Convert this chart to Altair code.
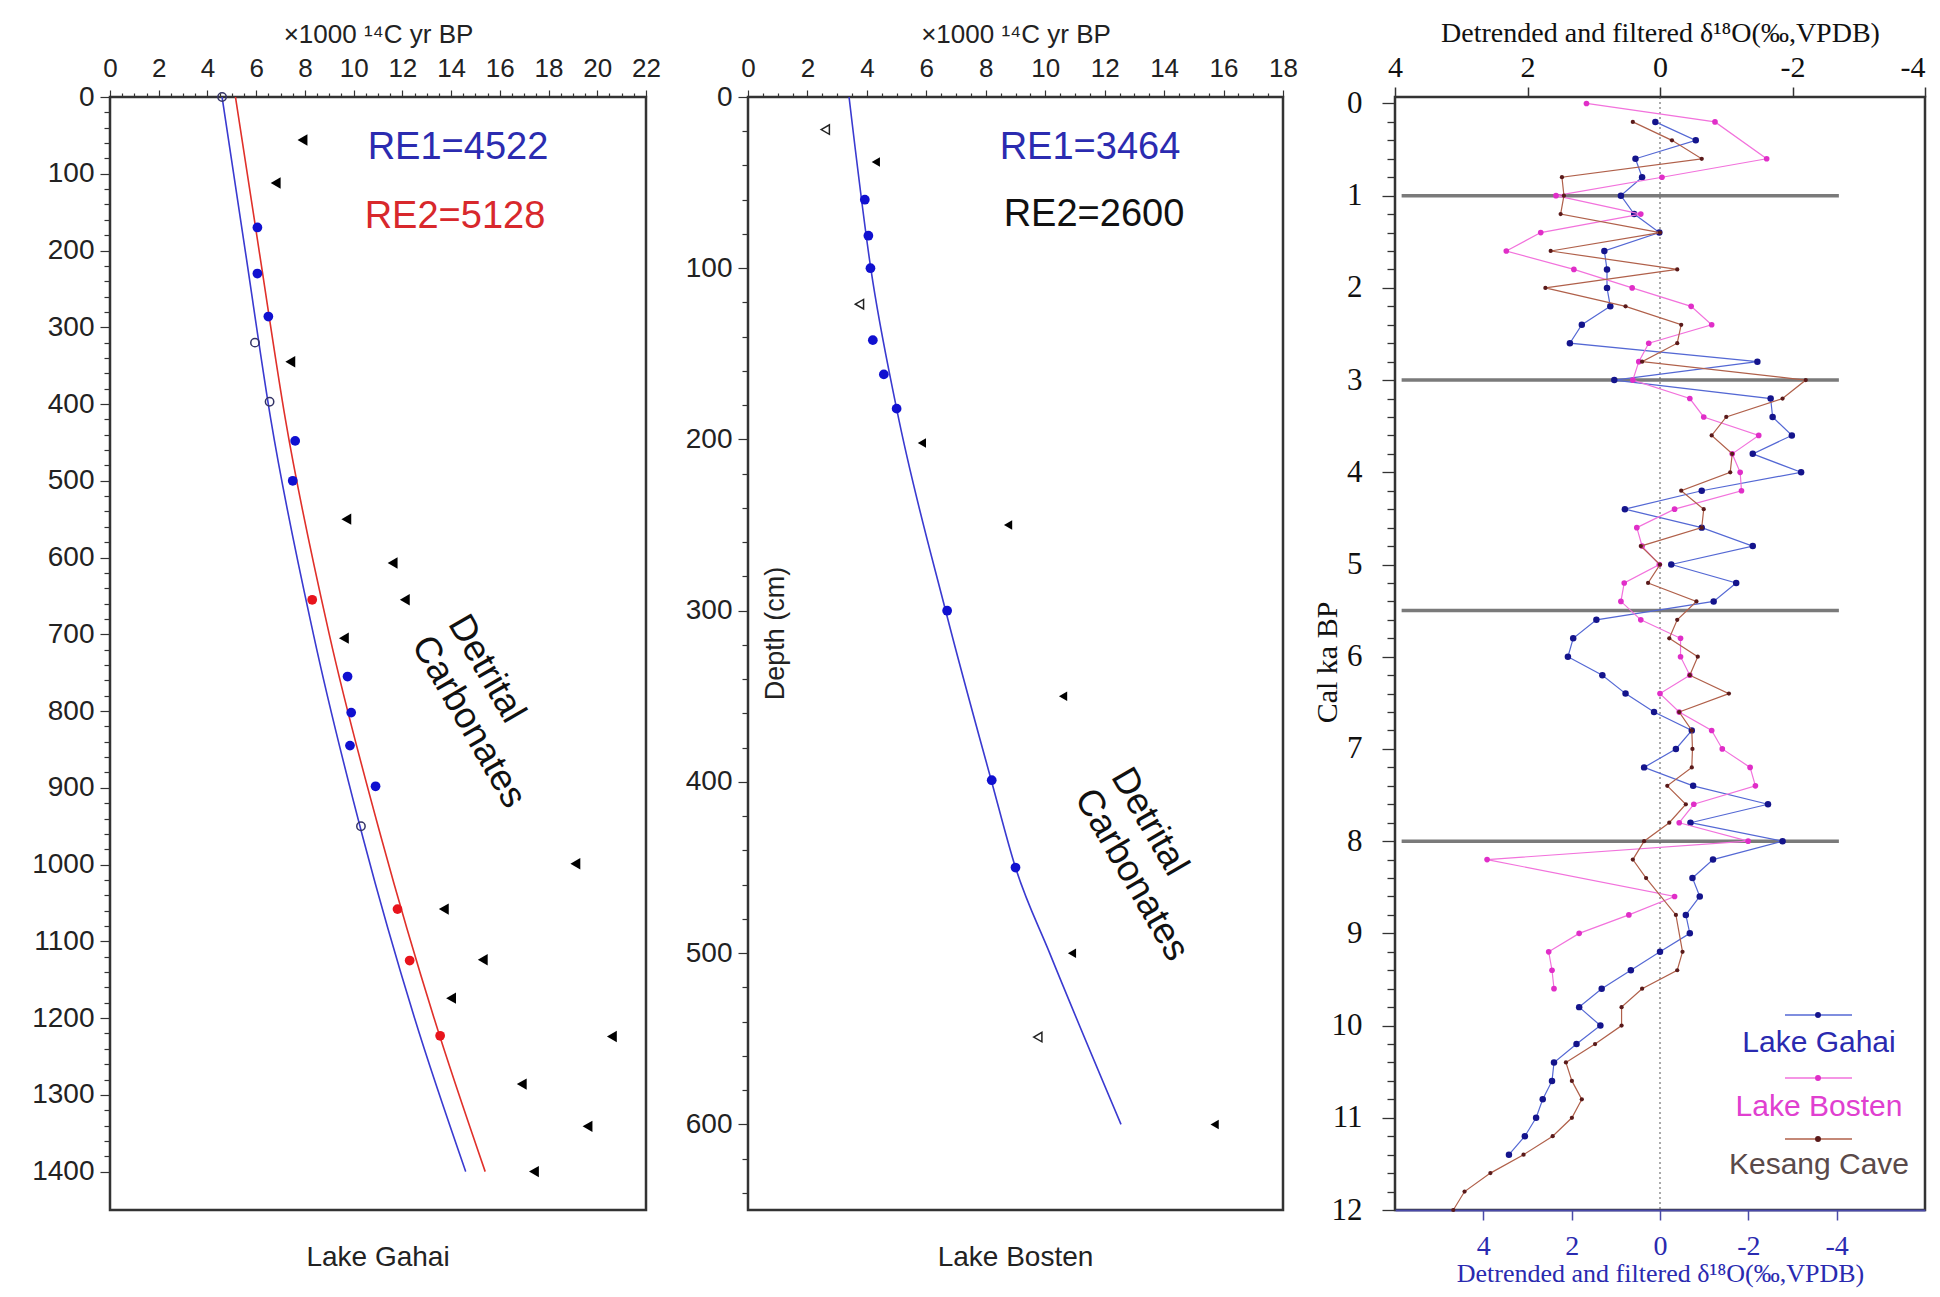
import altair as alt
import pandas as pd

# ---------------- Panel 1: Lake Gahai ----------------
gahai_line_depth = [0, 200, 420, 700, 967, 1200, 1400]
gahai_re1_age = [4.6, 5.55, 6.6, 8.35, 10.4, 12.5, 14.6]
gahai_re2_age = [5.15, 6.12, 7.2, 9.0, 11.15, 13.3, 15.4]

gahai_blue_age = [6.05, 6.05, 6.5, 7.6, 7.5, 9.75, 9.9, 9.85, 10.9]
gahai_blue_depth = [170, 230, 286, 448, 500, 755, 802, 845, 898]
gahai_red_age = [8.3, 11.8, 12.3, 13.55]
gahai_red_depth = [655, 1058, 1125, 1223]
gahai_open_age = [4.6, 5.95, 6.55, 10.3]
gahai_open_depth = [0, 320, 397, 950]
gahai_tri_age = [7.9, 6.8, 7.4, 9.7, 11.6, 12.1, 9.6, 19.1, 13.7, 15.3, 14.0, 20.6, 16.9, 19.6, 17.4]
gahai_tri_depth = [56, 112, 345, 550, 607, 655, 705, 999, 1058, 1124, 1174, 1224, 1286, 1341, 1400]

# ---------------- Panel 2: Lake Bosten ----------------
bosten_line_depth = [0, 100, 182, 300, 400, 450, 500, 600]
bosten_re1_age = [3.4, 4.13, 5.0, 6.65, 8.2, 9.0, 10.15, 12.55]
bosten_blue_age = [3.93, 4.05, 4.12, 4.2, 4.57, 5.0, 6.7, 8.2, 9.0]
bosten_blue_depth = [60, 81, 100, 142, 162, 182, 300, 399, 450]
bosten_tri_age = [4.3, 5.85, 8.75, 10.6, 10.9, 15.7]
bosten_tri_depth = [38, 202, 250, 350, 500, 600]
bosten_open_age = [2.6, 3.75, 9.75]
bosten_open_depth = [19, 121, 549]

# ---------------- Panel 3: detrended d18O ----------------
gahai_ka = [0.2, 0.4, 0.6, 0.8, 1.0, 1.2, 1.4, 1.6, 1.8, 2.0, 2.2, 2.4, 2.6, 2.8, 3.0,
            3.2, 3.4, 3.6, 3.8, 4.0, 4.2, 4.4, 4.6, 4.8, 5.0, 5.2, 5.4, 5.6, 5.8, 6.0,
            6.2, 6.4, 6.6, 6.8, 7.0, 7.2, 7.4, 7.6, 7.8, 8.0, 8.2, 8.4, 8.6, 8.8, 9.0,
            9.2, 9.4, 9.6, 9.8, 10.0, 10.2, 10.4, 10.6, 10.8, 11.0, 11.2, 11.4]
gahai_d18o = [0.07, -0.54, 0.37, 0.27, 0.59, 0.39, 0.01, 0.84, 0.80, 0.80, 0.75, 1.18, 1.36, -1.47, 0.69,
              -1.67, -1.70, -1.99, -1.40, -2.13, -0.63, 0.53, -0.63, -1.40, -0.17, -1.15, -0.81, 0.96, 1.31, 1.39,
              0.87, 0.52, 0.09, -0.48, -0.24, 0.24, -0.50, -1.63, -0.46, -1.85, -0.80, -0.49, -0.60, -0.39, -0.45,
              0.0, 0.44, 0.88, 1.22, 0.90, 1.26, 1.60, 1.63, 1.77, 1.87, 2.04, 2.28]

bosten_ka = [0.0, 0.2, 0.6, 0.8, 1.0, 1.2, 1.4, 1.6, 1.8, 2.0, 2.2, 2.4, 2.6, 2.8, 3.0,
             3.2, 3.4, 3.6, 3.8, 4.0, 4.2, 4.4, 4.6, 4.8, 5.0, 5.2, 5.4, 5.6, 5.8, 6.0,
             6.2, 6.4, 6.6, 6.8, 7.0, 7.2, 7.4, 7.6, 7.8, 8.0, 8.2, 8.6, 8.8, 9.0, 9.2, 9.4, 9.6]
bosten_d18o = [1.11, -0.83, -1.61, -0.03, 1.57, 0.29, 1.80, 2.32, 1.30, 0.42, -0.47, -0.78, 0.17, 0.32, 0.41,
               -0.45, -0.66, -1.49, -1.09, -1.21, -1.23, -0.22, 0.35, 0.27, 0.01, 0.54, 0.59, 0.29, -0.31, -0.31,
               -0.45, 0.0, -0.29, -0.78, -0.94, -1.36, -1.44, -0.51, -0.29, -1.33, 2.61, -0.22, 0.47, 1.22, 1.68,
               1.63, 1.60]

kesang_ka = [0.2, 0.4, 0.6, 0.8, 1.0, 1.2, 1.4, 1.6, 1.8, 2.0, 2.2, 2.4, 2.6, 2.8, 3.0,
             3.2, 3.4, 3.6, 3.8, 4.0, 4.2, 4.4, 4.6, 4.8, 5.0, 5.2, 5.4, 5.6, 5.8, 6.0,
             6.2, 6.4, 6.6, 6.8, 7.0, 7.2, 7.4, 7.6, 7.8, 8.0, 8.2, 8.4, 8.8, 9.2, 9.4,
             9.6, 9.8, 10.0, 10.2, 10.4, 10.6, 10.8, 11.0, 11.2, 11.4, 11.6, 11.8, 12.0]
kesang_d18o = [0.41, -0.18, -0.63, 1.48, 1.45, 1.50, 0.0, 1.65, -0.26, 1.73, 0.52, -0.32, -0.26, 0.27, -2.2,
               -1.85, -1.0, -0.78, -1.09, -1.06, -0.32, -0.66, -0.63, 0.29, 0.0, 0.18, -0.55, -0.26, -0.14, -0.57,
               -0.45, -1.04, -0.29, -0.48, -0.49, -0.48, -0.11, -0.39, -0.14, 0.24, 0.41, 0.21, -0.24, -0.34, -0.26,
               0.27, 0.58, 0.58, 0.98, 1.42, 1.33, 1.18, 1.33, 1.62, 2.06, 2.56, 2.95, 3.12]

event_ka = [1, 3, 5.5, 8]
event_start = [3.9, 3.9, 3.9, 3.9]
event_end = [-2.7, -2.7, -2.7, -2.7]

FS = "Liberation Sans"
FT = "Liberation Serif"
H = 1113
W1, W2, W3 = 536, 535, 530


def age_axis(maxv):
    return alt.Axis(
        orient="top", values=[k * 0.5 for k in range(int(maxv * 2) + 1)],
        labelExpr="datum.value % 2 === 0 ? '' + datum.value : ''",
        tickSize={"condition": {"test": "datum.value % 2 === 0", "value": 7}, "value": 4},
        tickColor="#333", tickWidth=1.2, domain=False, grid=False,
        labelFont=FS, labelFontSize=26, labelColor="#222", labelPadding=9,
        labelOverlap=False, labelFlush=False,
        title="×1000 ¹⁴C yr BP", titleFont=FS, titleFontSize=26, titleFontWeight="normal",
        titleColor="#222", titlePadding=8)


def depth_axis(maxd, title="", **kw):
    return alt.Axis(
        orient="left", values=list(range(0, maxd + 1, 20)),
        labelExpr="datum.value % 100 === 0 ? '' + datum.value : ''",
        tickSize={"condition": {"test": "datum.value % 100 === 0", "value": 10}, "value": 6},
        tickColor="#333", tickWidth=1.2, domain=False, grid=False,
        labelFont=FS, labelFontSize=28, labelColor="#222", labelPadding=6,
        labelOverlap=False, labelFlush=False, title=title, **kw)


def age_x(field, maxv):
    return alt.X(field, type="quantitative",
                 scale=alt.Scale(domain=[0, maxv], nice=False, zero=False),
                 axis=age_axis(maxv))


def depth_y(field, maxd, dom, **kw):
    return alt.Y(field, type="quantitative",
                 scale=alt.Scale(domain=[0, dom], reverse=True, nice=False, zero=False),
                 axis=depth_axis(maxd, **kw))


def df(a, d):
    return pd.DataFrame({"age": a, "depth": d})


# ---------- panel 1 ----------
X1 = age_x("age", 22)
Y1 = depth_y("depth", 1400, 1450)
lines1 = pd.concat([
    pd.DataFrame({"age": gahai_re1_age, "depth": gahai_line_depth, "s": "RE1"}),
    pd.DataFrame({"age": gahai_re2_age, "depth": gahai_line_depth, "s": "RE2"}),
])
p1_layers = [
    alt.Chart(lines1).mark_line(strokeWidth=1.6, interpolate="monotone").encode(
        x=X1, y=Y1, order="depth:Q",
        color=alt.Color("s:N", scale=alt.Scale(domain=["RE1", "RE2"], range=["#3a3ad0", "#e0302a"]), legend=None)),
    alt.Chart(df(gahai_blue_age, gahai_blue_depth)).mark_point(shape="circle", filled=True, size=95, color="#1010d0", opacity=1).encode(x=X1, y=Y1),
    alt.Chart(df(gahai_red_age, gahai_red_depth)).mark_point(shape="circle", filled=True, size=95, color="#e8141c", opacity=1).encode(x=X1, y=Y1),
    alt.Chart(df(gahai_open_age, gahai_open_depth)).mark_point(shape="circle", filled=False, size=70, color="#333366", strokeWidth=1.5, opacity=1).encode(x=X1, y=Y1),
    alt.Chart(df(gahai_tri_age, gahai_tri_depth)).mark_point(shape="triangle-left", filled=True, size=130, color="#000", opacity=1).encode(x=X1, y=Y1),
]
one = pd.DataFrame({"a": [0]})
p1_layers += [
    alt.Chart(one).mark_text(text="RE1=4522", font=FS, fontSize=38, color="#2b2bb0").encode(x=alt.value(348), y=alt.value(51)),
    alt.Chart(one).mark_text(text="RE2=5128", font=FS, fontSize=38, color="#d8282c").encode(x=alt.value(345), y=alt.value(120)),
    alt.Chart(one).mark_text(text=["Detrital", "Carbonates"], font=FS, fontSize=37, lineHeight=42, angle=60,
                             align="left", baseline="middle", color="#111").encode(x=alt.value(347), y=alt.value(521)),
]
p1 = alt.layer(*p1_layers).properties(
    width=W1, height=H,
    title=alt.TitleParams("Lake Gahai", orient="bottom", font=FS, fontSize=28, fontWeight="normal", color="#222", offset=34))

# ---------- panel 2 ----------
X2 = age_x("age", 18)
Y2 = depth_y("depth", 640, 650, title="Depth (cm)", titleX=27, titleY=536, titleFont=FS, titleFontSize=27,
             titleFontWeight="normal", titleColor="#222", titleAngle=270, titleBaseline="middle", titleAlign="center")
p2_layers = [
    alt.Chart(df(bosten_re1_age, bosten_line_depth)).mark_line(strokeWidth=1.6, color="#3a3ad0", interpolate="monotone").encode(x=X2, y=Y2, order="depth:Q"),
    alt.Chart(df(bosten_blue_age, bosten_blue_depth)).mark_point(shape="circle", filled=True, size=95, color="#1010d0", opacity=1).encode(x=X2, y=Y2),
    alt.Chart(df(bosten_tri_age, bosten_tri_depth)).mark_point(shape="triangle-left", filled=True, size=90, color="#000", opacity=1).encode(x=X2, y=Y2),
    alt.Chart(df(bosten_open_age, bosten_open_depth)).mark_point(shape="triangle-left", filled=False, size=90, color="#222", strokeWidth=1.5, opacity=1).encode(x=X2, y=Y2),
    alt.Chart(one).mark_text(text="RE1=3464", font=FS, fontSize=38, color="#2b2bb0").encode(x=alt.value(342), y=alt.value(51)),
    alt.Chart(one).mark_text(text="RE2=2600", font=FS, fontSize=38, color="#111").encode(x=alt.value(346), y=alt.value(118)),
    alt.Chart(one).mark_text(text=["Detrital", "Carbonates"], font=FS, fontSize=37, lineHeight=42, angle=60,
                             align="left", baseline="middle", color="#111").encode(x=alt.value(372), y=alt.value(674)),
]
p2 = alt.layer(*p2_layers).properties(
    width=W2, height=H,
    title=alt.TitleParams("Lake Bosten", orient="bottom", font=FS, fontSize=28, fontWeight="normal", color="#222", offset=34))

# ---------- panel 3 ----------
top_axis3 = alt.Axis(
    orient="top", values=[4, 2, 0, -2, -4], labelExpr="'' + datum.value",
    labelAlign={"condition": {"test": "datum.value === -4", "value": "right"}, "value": "center"},
    tickSize=10, tickColor="#333", tickWidth=1.5, domain=False, grid=False,
    labelFont=FT, labelFontSize=30, labelColor="#111", labelPadding=5, labelOverlap=False, labelFlush=False,
    title="Detrended and  filtered δ¹⁸O(‰,VPDB)", titleFont=FT, titleFontSize=28, titleFontWeight="normal",
    titleColor="#111", titlePadding=5)
ka_axis = alt.Axis(
    orient="left", values=[round(k * 0.2, 1) for k in range(61)],
    labelExpr="datum.value % 1 === 0 ? '' + datum.value : ''",
    tickSize={"condition": {"test": "datum.value % 1 === 0", "value": 13}, "value": 8},
    tickColor="#333", tickWidth=1.3, domain=False, grid=False,
    labelFont=FT, labelFontSize=31, labelColor="#111", labelPadding=20, labelOverlap=False, labelFlush=False,
    title="Cal ka BP", titleFont=FT, titleFontSize=30, titleFontWeight="normal", titleColor="#111",
    titleX=-68, titleY=565, titleAngle=270, titleBaseline="middle", titleAlign="center")

X3s = alt.Scale(domain=[4, -4], nice=False, zero=False)
Y3s = alt.Scale(domain=[-0.07, 12], reverse=True, nice=False, zero=False)


def X3(f):
    return alt.X(f, type="quantitative", scale=X3s, axis=top_axis3)


def Y3(f):
    return alt.Y(f, type="quantitative", scale=Y3s, axis=ka_axis)


ev = pd.DataFrame({"ka": event_ka, "x0": event_start, "x1": event_end})
zero_df = pd.DataFrame({"v": [0]})
series = [
    (gahai_ka, gahai_d18o, "#5468d4", "#14148c", 42),
    (bosten_ka, bosten_d18o, "#f272dc", "#e02ec8", 32),
    (kesang_ka, kesang_d18o, "#b0604a", "#5a1a1a", 18),
]
p3_layers = [
    alt.Chart(ev).mark_rule(stroke="#7a7a7a", strokeWidth=3.5).encode(x=X3("x0"), x2="x1:Q", y=Y3("ka")),
    alt.Chart(zero_df).mark_rule(stroke="#555", strokeWidth=1, strokeDash=[2, 3]).encode(
        x=X3("v"), y=alt.value(0), y2=alt.value(H)),
]
for ka, val, lc, pc, sz in series:
    d = pd.DataFrame({"ka": ka, "v": val})
    p3_layers.append(alt.Chart(d).mark_line(stroke=lc, strokeWidth=1.2).encode(x=X3("v"), y=Y3("ka"), order="ka:Q"))
    p3_layers.append(alt.Chart(d).mark_point(shape="circle", filled=True, size=sz, color=pc, opacity=1).encode(x=X3("v"), y=Y3("ka")))

legend_items = [
    ("Lake Gahai", "#5468d4", "#14148c", "#2a2ab0", 918, 946),
    ("Lake Bosten", "#f272dc", "#e02ec8", "#e040d0", 981, 1010),
    ("Kesang Cave", "#b0604a", "#5a1a1a", "#5a4a4a", 1042, 1068),
]
for name, lc, pc, tc, ly, ty in legend_items:
    p3_layers.append(alt.Chart(one).mark_rule(stroke=lc, strokeWidth=1.5).encode(
        x=alt.value(390), x2=alt.value(457), y=alt.value(ly)))
    p3_layers.append(alt.Chart(one).mark_point(shape="circle", filled=True, size=35, color=pc, opacity=1).encode(
        x=alt.value(423), y=alt.value(ly)))
    p3_layers.append(alt.Chart(one).mark_text(text=name, font=FS, fontSize=30, color=tc).encode(
        x=alt.value(424), y=alt.value(ty)))

inner3 = alt.layer(*p3_layers)
bottom_ticks = pd.DataFrame({"b": [4, 2, 0, -2, -4]})
bottom_layer = alt.Chart(bottom_ticks).mark_point(opacity=0).encode(
    x=alt.X("b:Q", scale=alt.Scale(domain=[6, -6], nice=False, zero=False),
            axis=alt.Axis(orient="bottom", values=[4, 2, 0, -2, -4], labelExpr="'' + datum.value",
                          tickSize=10, tickColor="#4a4aa8", tickWidth=1.5,
                          domain=True, domainColor="#4a4aa8", domainWidth=2, grid=False,
                          labelFont=FT, labelFontSize=28, labelColor="#2a2ab0", labelPadding=12,
                          labelOverlap=False, labelFlush=False,
                          title="Detrended and  filtered δ¹⁸O(‰,VPDB)", titleFont=FT, titleFontSize=26,
                          titleFontWeight="normal", titleColor="#2a2ab0", titlePadding=0)),
    y=alt.value(H))
p3 = alt.layer(inner3, bottom_layer).resolve_scale(x="independent").properties(width=W3, height=H)

left = alt.hconcat(p1, p2, spacing=102, bounds="flush")
chart = alt.hconcat(left, p3, spacing=11).properties(
    padding={"left": 22, "top": 9, "right": 0, "bottom": 0}
).configure_view(stroke="#333", strokeWidth=2.5).configure_axis(grid=False)

chart.save("out.html", embed_options={"renderer": "svg", "actions": False})
